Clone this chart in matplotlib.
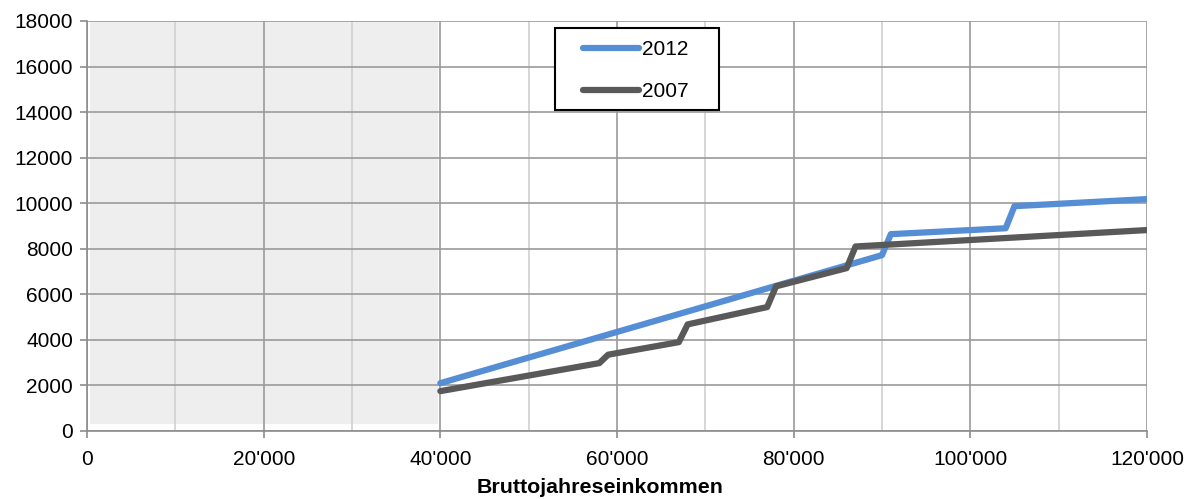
import matplotlib
matplotlib.use("Agg")
import matplotlib.pyplot as plt
from matplotlib.ticker import FuncFormatter, MultipleLocator
from matplotlib.patches import Rectangle

plt.rcParams['font.family'] = ['Liberation Sans', 'DejaVu Sans']

# Data (breakpoints)
income_2012 = [40000, 90000, 91000, 104000, 105000, 120000]
tax_2012 = [2100, 7720, 8640, 8900, 9870, 10180]
income_2007 = [40000, 58000, 59000, 67000, 68000, 77000, 78000, 86000, 87000, 120000]
tax_2007 = [1750, 2980, 3350, 3900, 4680, 5440, 6350, 7150, 8100, 8820]
series_labels = ['2012', '2007']
x_label = 'Bruttojahreseinkommen'

fig = plt.figure(figsize=(11.86, 4.99), dpi=100)
ax = fig.add_axes([0.0734, 0.1363, 0.8937, 0.8217])

ax.set_xlim(0, 120000)
ax.set_ylim(0, 18000)
ax.xaxis.set_major_locator(MultipleLocator(20000))
ax.xaxis.set_minor_locator(MultipleLocator(10000))
ax.yaxis.set_major_locator(MultipleLocator(2000))
ax.xaxis.set_major_formatter(FuncFormatter(lambda v, p: '0' if v == 0 else f"{int(v):,}".replace(',', "'")))
ax.yaxis.set_major_formatter(FuncFormatter(lambda v, p: f"{int(v)}"))

ax.grid(True, which='major', axis='both', color='#9a9a9a', linewidth=1.2, zorder=0)
ax.grid(True, which='minor', axis='x', color='#d0d0d0', linewidth=1.2, zorder=0)
ax.set_axisbelow(True)

# shaded region
ax.add_patch(Rectangle((300, 300), 39400, 17700, facecolor='#ececec', edgecolor='none', alpha=0.85, zorder=0.5))

for s in ['top', 'right']:
    ax.spines[s].set_visible(False)
for s in ['left', 'bottom']:
    ax.spines[s].set_color('#8c8c8c')
    ax.spines[s].set_linewidth(1.2)

ax.tick_params(axis='both', which='major', direction='out', length=5, color='#8c8c8c', width=1.2,
               labelsize=15, labelcolor='black')
ax.tick_params(axis='x', which='minor', length=0)
ax.tick_params(axis='x', pad=9)
ax.tick_params(axis='y', pad=5)

ax.plot(income_2012, tax_2012, color='#558ED5', linewidth=4.5, label=series_labels[0], zorder=3,
        solid_capstyle='round', solid_joinstyle='round')
ax.plot(income_2007, tax_2007, color='#595959', linewidth=4.5, label=series_labels[1], zorder=4,
        solid_capstyle='round', solid_joinstyle='round')

ax.set_xlabel(x_label, fontsize=15.4, fontweight='bold')
ax.xaxis.set_label_coords((600 - 87) / 1060, -(488 - 431) / 410, transform=ax.transAxes)
ax.xaxis.label.set_verticalalignment('center')

# legend frame
frame = Rectangle((555 / 1186, (499 - 110) / 499), 164 / 1186, 82 / 499,
                  transform=fig.transFigure, facecolor='white', edgecolor='black',
                  linewidth=1.5, zorder=4.9, clip_on=False)
ax.add_artist(frame)
leg = ax.legend(loc='upper left', bbox_to_anchor=(583 / 1186, (499 - 40) / 499),
                bbox_transform=fig.transFigure, fontsize=15, frameon=False,
                handlelength=2.7, handletextpad=0.15, borderpad=0, labelspacing=1.1,
                borderaxespad=0)
leg.set_zorder(6)

fig.savefig('out.png', dpi=100)
